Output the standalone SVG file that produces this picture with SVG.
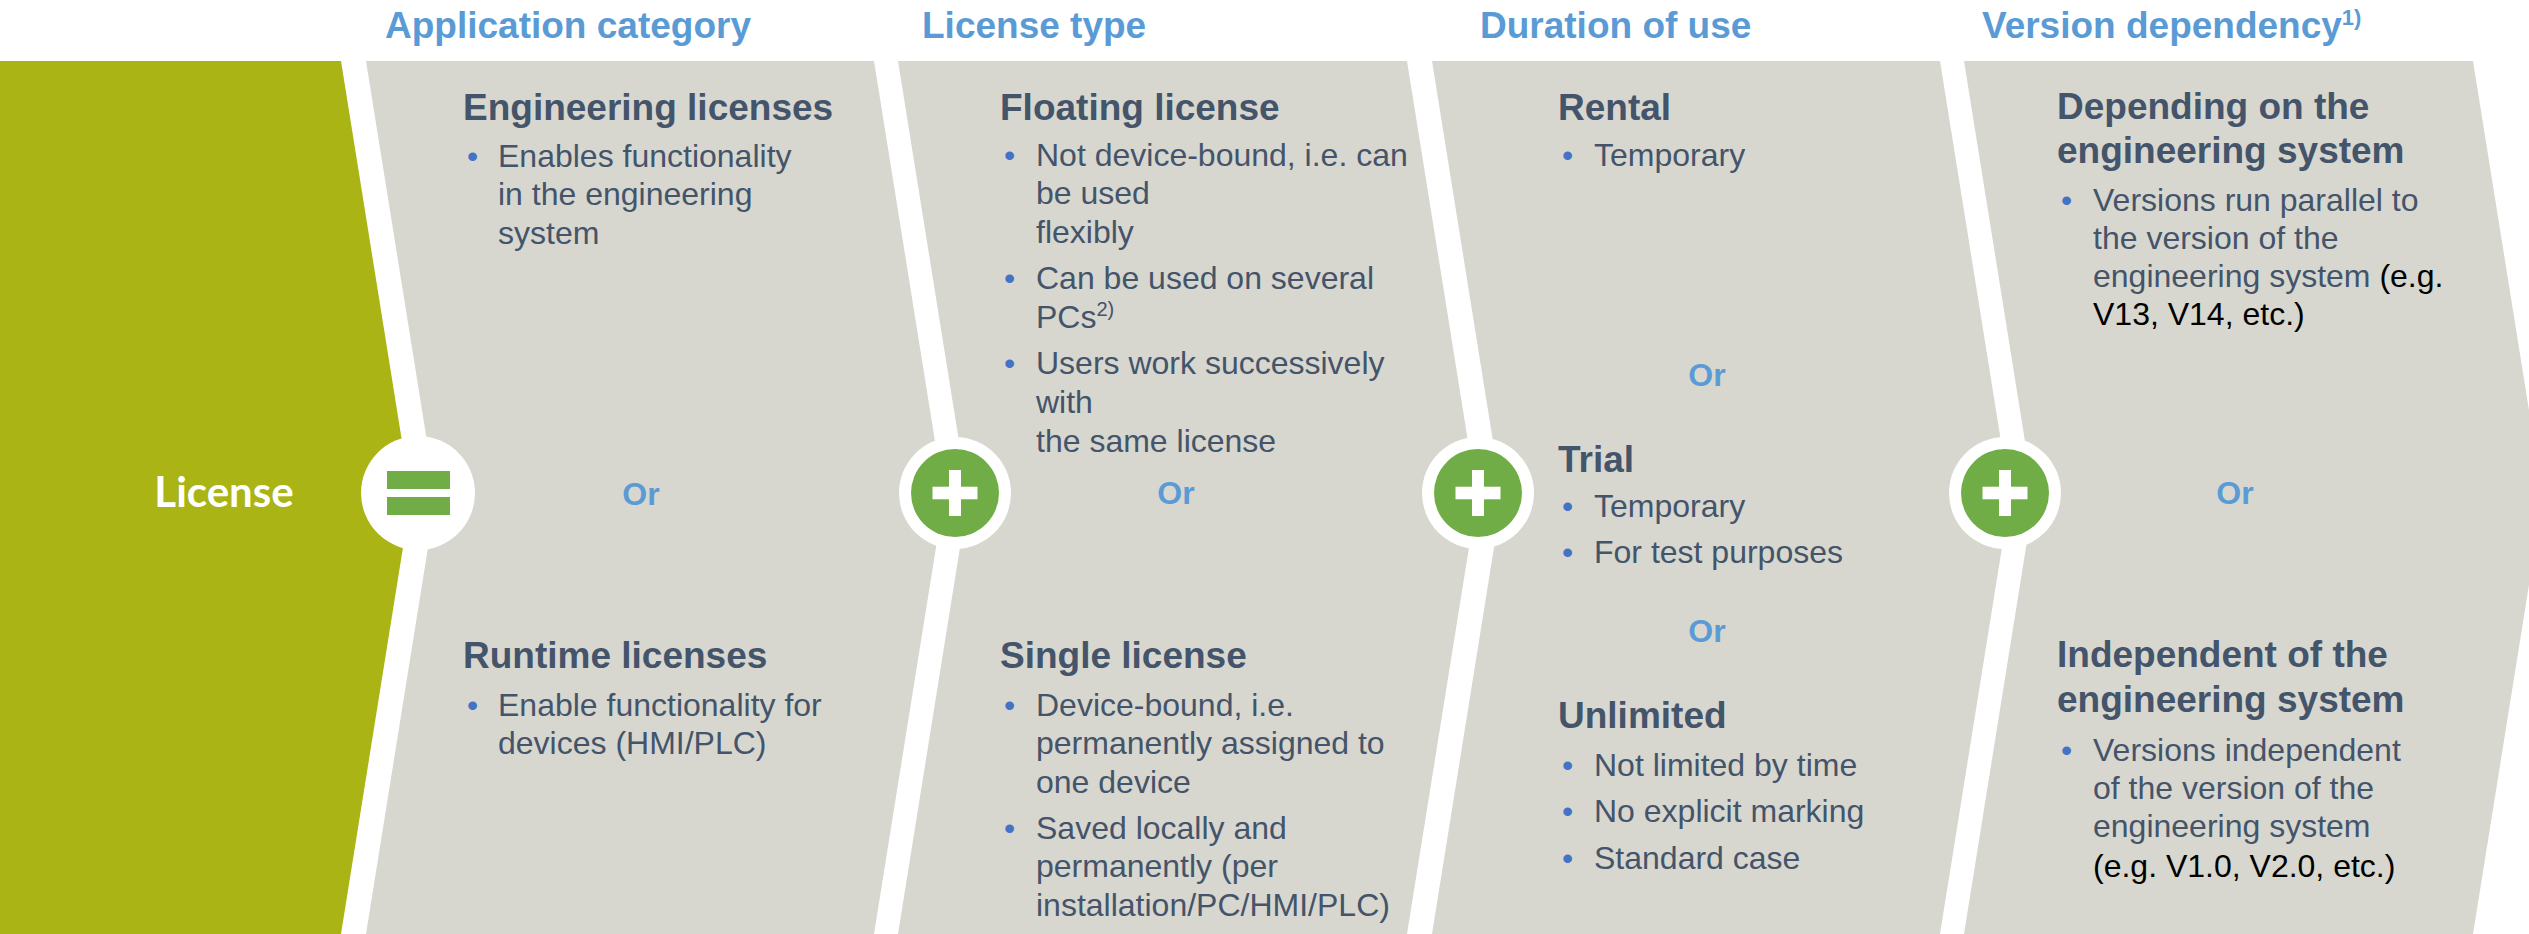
<svg xmlns="http://www.w3.org/2000/svg" width="2529" height="934" viewBox="0 0 2529 934">
<defs>
<style>
text{font-family:"Liberation Sans",Arial,sans-serif}
.hdr{font-size:37px;font-weight:bold;fill:#5B9BD5}
.h{font-size:37px;font-weight:bold;fill:#44546A}
.b{font-size:32px;fill:#44546A}
.k{fill:#000000}
.dot{font-size:32px;fill:#4472C4}
.or{font-size:32px;font-weight:bold;fill:#5B9BD5;text-anchor:middle}
.panel{fill:#D7D7CF}
.ring{fill:#FFFFFF}
.gc{fill:#70AD47}
.plus{fill:#FFFFFF}
</style>
<g id="plusSign">
<circle class="ring" cx="0" cy="0" r="56"/>
<circle class="gc" cx="0" cy="0" r="44"/>
<rect class="plus" x="-22.5" y="-6.3" width="45" height="12.6"/>
<rect class="plus" x="-6" y="-23" width="12" height="46"/>
</g>
</defs>
<rect x="0" y="0" width="2529" height="934" fill="#FFFFFF"/>

<g id="headers">
<text class="hdr" x="385" y="38">Application category</text>
<text class="hdr" x="922" y="38">License type</text>
<text class="hdr" x="1480" y="38">Duration of use</text>
<text class="hdr" x="1982" y="38">Version dependency<tspan font-size="22" dy="-13">1)</tspan></text>
</g>

<g id="license">
<path d="M0,61 L341,61 L411,497.5 L341,934 L0,934 Z" fill="#AAB415"/>
<text x="224" y="507" text-anchor="middle" style="font-family:Lato,'Liberation Sans',sans-serif;font-size:42px;font-weight:bold;fill:#FFFFFF">License</text>
</g>

<g id="panel-application">
<path class="panel" d="M366,61 L874,61 L944,497.5 L874,934 L366,934 L436,497.5 Z"/>
<text class="h" x="463" y="119.5">Engineering licenses</text>
<text class="dot" x="467" y="166.5">•</text>
<text class="b" x="498" y="166.5">Enables functionality</text>
<text class="b" x="498" y="205">in the engineering</text>
<text class="b" x="498" y="243.5">system</text>
<text class="or" x="641" y="505">Or</text>
<text class="h" x="463" y="668">Runtime licenses</text>
<text class="dot" x="467" y="715.7">•</text>
<text class="b" x="498" y="715.7">Enable functionality for</text>
<text class="b" x="498" y="754">devices (HMI/PLC)</text>
</g>

<g id="panel-license-type">
<path class="panel" d="M898,61 L1407,61 L1477,497.5 L1407,934 L898,934 L968,497.5 Z"/>
<text class="h" x="1000" y="120">Floating license</text>
<text class="dot" x="1004" y="165.7">•</text>
<text class="b" x="1036" y="165.7">Not device-bound, i.e. can</text>
<text class="b" x="1036" y="204">be used</text>
<text class="b" x="1036" y="242.5">flexibly</text>
<text class="dot" x="1004" y="289">•</text>
<text class="b" x="1036" y="289">Can be used on several</text>
<text class="b" x="1036" y="327.5">PCs<tspan font-size="20" dy="-12">2)</tspan></text>
<text class="dot" x="1004" y="374">•</text>
<text class="b" x="1036" y="374">Users work successively</text>
<text class="b" x="1036" y="413">with</text>
<text class="b" x="1036" y="452">the same license</text>
<text class="or" x="1176" y="504">Or</text>
<text class="h" x="1000" y="668">Single license</text>
<text class="dot" x="1004" y="715.7">•</text>
<text class="b" x="1036" y="715.7">Device-bound, i.e.</text>
<text class="b" x="1036" y="754">permanently assigned to</text>
<text class="b" x="1036" y="792.7">one device</text>
<text class="dot" x="1004" y="839">•</text>
<text class="b" x="1036" y="839">Saved locally and</text>
<text class="b" x="1036" y="877">permanently (per</text>
<text class="b" x="1036" y="915.7">installation/PC/HMI/PLC)</text>
</g>

<g id="panel-duration">
<path class="panel" d="M1432,61 L1940,61 L2010,497.5 L1940,934 L1432,934 L1502,497.5 Z"/>
<text class="h" x="1558" y="120">Rental</text>
<text class="dot" x="1562" y="165.7">•</text>
<text class="b" x="1594" y="165.7">Temporary</text>
<text class="or" x="1707" y="385.7">Or</text>
<text class="h" x="1558" y="471.5">Trial</text>
<text class="dot" x="1562" y="517.3">•</text>
<text class="b" x="1594" y="517.3">Temporary</text>
<text class="dot" x="1562" y="563.3">•</text>
<text class="b" x="1594" y="563.3">For test purposes</text>
<text class="or" x="1707" y="642.3">Or</text>
<text class="h" x="1558" y="728">Unlimited</text>
<text class="dot" x="1562" y="776.3">•</text>
<text class="b" x="1594" y="776.3">Not limited by time</text>
<text class="dot" x="1562" y="822.3">•</text>
<text class="b" x="1594" y="822.3">No explicit marking</text>
<text class="dot" x="1562" y="869">•</text>
<text class="b" x="1594" y="869">Standard case</text>
</g>

<g id="panel-version">
<path class="panel" d="M1964,61 L2473,61 L2543,497.5 L2473,934 L1964,934 L2034,497.5 Z"/>
<text class="h" x="2057" y="119">Depending on the</text>
<text class="h" x="2057" y="163.3">engineering system</text>
<text class="dot" x="2061" y="211">•</text>
<text class="b" x="2093" y="211">Versions run parallel to</text>
<text class="b" x="2093" y="249.3">the version of the</text>
<text class="b" x="2093" y="287.3">engineering system<tspan class="k"> (e.g.</tspan></text>
<text class="b k" x="2093" y="325">V13, V14, etc.)</text>
<text class="or" x="2235" y="503.5">Or</text>
<text class="h" x="2057" y="667.3">Independent of the</text>
<text class="h" x="2057" y="712.3">engineering system</text>
<text class="dot" x="2061" y="760.7">•</text>
<text class="b" x="2093" y="760.7">Versions independent</text>
<text class="b" x="2093" y="799">of the version of the</text>
<text class="b" x="2093" y="837.3">engineering system</text>
<text class="b k" x="2093" y="876.7">(e.g. V1.0, V2.0, etc.)</text>
</g>

<g id="connectors">
<g id="op-equals">
<circle class="ring" cx="418" cy="493" r="57"/>
<rect class="gc" x="387" y="471" width="63" height="18"/>
<rect class="gc" x="387" y="497" width="63" height="18"/>
</g>
<use id="op-plus-1" href="#plusSign" x="955" y="493"/>
<use id="op-plus-2" href="#plusSign" x="1478" y="493"/>
<use id="op-plus-3" href="#plusSign" x="2005" y="493"/>
</g>
</svg>
